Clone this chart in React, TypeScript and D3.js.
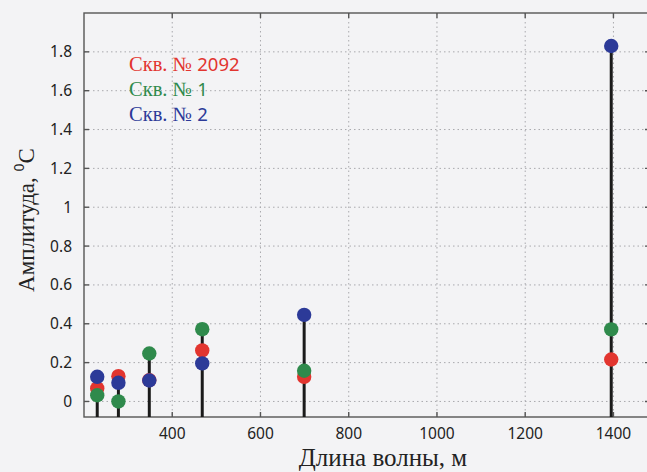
import React from 'react';
import * as d3 from 'd3';

// длины волн (м) и амплитуды (°C) для трёх скважин
const wavelengths = [230, 278, 348, 468, 699, 1395];
const skv2092 = [0.067, 0.13, 0.11, 0.263, 0.127, 0.216];
const skv1 = [0.032, 0.0, 0.247, 0.372, 0.158, 0.371];
const skv2 = [0.127, 0.096, 0.108, 0.196, 0.446, 1.83];

const xTicks = [400, 600, 800, 1000, 1200, 1400];
const yTicks = [0, 0.2, 0.4, 0.6, 0.8, 1, 1.2, 1.4, 1.6, 1.8];

const series = [
  { name: '2092', values: skv2092, color: '#e2352f' },
  { name: '1', values: skv1, color: '#2f8a4c' },
  { name: '2', values: skv2, color: '#2c3a98' },
];

const W = 647;
const H = 472;
const left = 84;
const top = 13;
const bottom = 417;

const sans = '"Noto Sans", "Open Sans", sans-serif';
const serif = '"Liberation Serif", "DejaVu Serif", serif';

export default function App() {
  const x = d3.scaleLinear().domain([200, 1500]).range([left, left + 1300 * 0.4412]);
  const y = d3.scaleLinear().domain([-0.08, 2.0]).range([bottom, top]);
  const right = x(1500);

  const stemTop = wavelengths.map((_, i) => d3.max(series, s => s.values[i]) as number);

  return (
    <svg width={W} height={H} style={{ position: 'absolute', left: 0, top: 0 }}>
      <rect width={W} height={H} fill="#f3f3f5" />

      {/* сетка */}
      <g stroke="#a9a9ad" strokeWidth={1} strokeDasharray="1.5,3">
        {xTicks.map(t => (
          <line key={'gx' + t} x1={x(t)} x2={x(t)} y1={top} y2={bottom} />
        ))}
        {yTicks.map(t => (
          <line key={'gy' + t} x1={left} x2={right} y1={y(t)} y2={y(t)} />
        ))}
      </g>

      {/* рамка и засечки */}
      <g stroke="#555" strokeWidth={1.4} fill="none">
        <rect x={left} y={top} width={right - left} height={bottom - top} />
        {xTicks.map(t => (
          <g key={'tx' + t}>
            <line x1={x(t)} x2={x(t)} y1={bottom} y2={bottom - 5} />
            <line x1={x(t)} x2={x(t)} y1={top} y2={top + 5} />
          </g>
        ))}
        {yTicks.map(t => (
          <g key={'ty' + t}>
            <line x1={left} x2={left + 5} y1={y(t)} y2={y(t)} />
            <line x1={645} x2={right} y1={y(t)} y2={y(t)} />
          </g>
        ))}
      </g>

      {/* стебли */}
      <g stroke="#1a1a1a" strokeWidth={3}>
        {wavelengths.map((w, i) => (
          <line key={'s' + w} x1={x(w)} x2={x(w)} y1={bottom} y2={y(stemTop[i])} />
        ))}
      </g>

      {/* маркеры */}
      {series.map(s => (
        <g key={s.name} fill={s.color}>
          {wavelengths.map((w, i) => (
            <circle key={w} cx={x(w)} cy={y(s.values[i])} r={7.2} />
          ))}
        </g>
      ))}

      {/* подписи осей */}
      <g fontFamily={sans} fontSize={15.5} fill="#222">
        {xTicks.map(t => (
          <text key={'lx' + t} x={x(t)} y={439} textAnchor="middle">{t}</text>
        ))}
        {yTicks.map(t => (
          <text key={'ly' + t} x={72} y={y(t) + 5.5} textAnchor="end">{d3.format('~g')(t)}</text>
        ))}
      </g>

      <text x={383} y={466} textAnchor="middle" fontFamily={serif} fontSize={25} fill="#222">
        Длина волны, м
      </text>

      <text transform="translate(34,220) rotate(-90)" textAnchor="middle" fontFamily={serif} fontSize={23} fill="#222">
        Амплитуда,{' '}
        <tspan fontFamily={sans} fontSize={14} dy={-10}>0</tspan>
        <tspan dy={10}>C</tspan>
      </text>

      {/* легенда */}
      {series.map((s, i) => (
        <text key={'lg' + s.name} x={129} y={71 + i * 25} fill={s.color} fontSize={20.5}>
          <tspan fontFamily={serif}>Скв. № </tspan>
          <tspan fontFamily={sans} fontSize={18.5}>{s.name}</tspan>
        </text>
      ))}
    </svg>
  );
}
